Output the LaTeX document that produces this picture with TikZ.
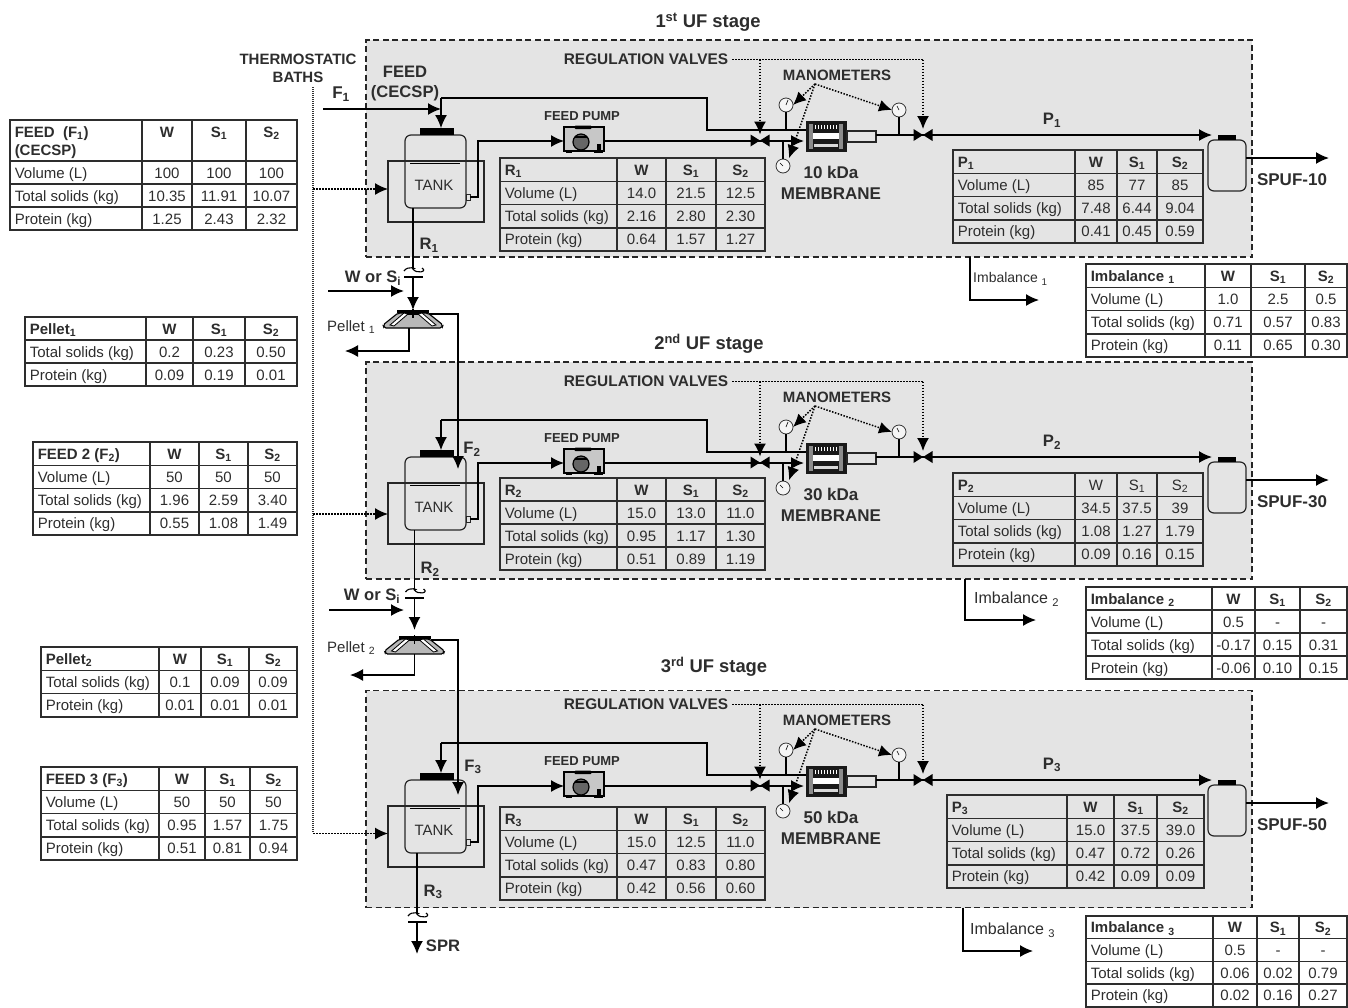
\documentclass[tikz,border=0pt]{standalone}
\usepackage{fontspec}
\usepackage{array}
\setmainfont{Liberation Sans}
\usetikzlibrary{arrows.meta}
\definecolor{stagegray}{RGB}{228,228,228}
\definecolor{inkgray}{RGB}{45,45,45}
\newcolumntype{L}[1]{>{\raggedright\arraybackslash\leftskip=4pt\relax}p{#1}}
\newcolumntype{C}[1]{>{\centering\arraybackslash}p{#1}}
\setlength{\tabcolsep}{0pt}
\setlength{\arrayrulewidth}{1.5pt}
\setlength{\extrarowheight}{4pt}
\newcommand{\lo}[1]{\textsubscript{#1}}
\newcommand{\tabhead}[1]{\textbf{#1}&\textbf{W}&\textbf{S\lo{1}}&\textbf{S\lo{2}}\\\hline}
\newcommand{\trow}[4]{#1&#2&#3&#4\\\hline}
% name, corner, four column widths, row height, rows
\newcommand{\flowtable}[8]{\node[tablebox] (#1) at ([shift={(-0.75,-0.75)}]#2) {\fontsize{15}{#7}\selectfont
  \begin{tabular}{|L{#3pt}|C{#4pt}|C{#5pt}|C{#6pt}|}\hline #8\end{tabular}};}
\newcommand{\valve}[2]{\node[valvenode] (#1) at (#2) {};
  \fill[black] (#1.center) -- (#1.north west) -- (#1.south west) -- cycle;
  \fill[black] (#1.center) -- (#1.north east) -- (#1.south east) -- cycle;}
\newcommand{\cutmark}[2]{\node[cutbar] (#1) at (#2) {};
  \draw[pipe] ([shift={(-9,-6)}]#1.center) .. controls +(4,-6) and +(5,0) .. ([shift={(0,-8)}]#1.center) .. controls +(3,5) and +(6,4) .. ([shift={(9,-9)}]#1.center);}
\newcommand{\centrifuge}[2]{\node[spinnode] (#1) at (#2) {};
  \begin{scope}[shift={(#1.center)}]
  \draw[pipe,fill=black!28,rounded corners=2pt] (-15,-6) -- (-30,6) -- (-29,9) -- (29,9) -- (30,6) -- (15,-6) -- cycle;
  \draw[line width=.8pt,fill=white] (-9,-6) -- (-23,6) -- (-19,7) -- (-5,-5) -- cycle;
  \draw[line width=.8pt,fill=white] (9,-6) -- (23,6) -- (19,7) -- (5,-5) -- cycle;
  \fill[black] (-16,-9) rectangle (16,-6);
  \draw[line width=1.6pt] (0,-10) -- (0,-1);
  \draw[line width=1.2pt] (-6,-5) -- (6,-5);
  \end{scope}}
\tikzset{
  >={Latex[length=13pt,width=12pt]},
  pipe/.style={line width=1.1pt,draw=black},
  bigpipe/.style={line width=1.8pt,draw=black},
  dots/.style={line width=1.5pt,dash pattern=on 1.5pt off 1.5pt,draw=black},
  thindots/.style={line width=1.2pt,dash pattern=on 1pt off 1pt,draw=black!80},
  stagebox/.style={draw=black!85,fill=stagegray,line width=1.5pt,dash pattern=on 6pt off 3.5pt,minimum width=886pt,minimum height=217pt,inner sep=0pt,outer sep=0pt},
  tablebox/.style={anchor=north west,inner sep=0pt,outer sep=0pt,text=inkgray},
  tankbody/.style={draw=black!85,line width=1.2pt,rounded corners=6pt,inner sep=0pt,outer sep=0pt},
  lidbar/.style={fill=black,inner sep=0pt,outer sep=0pt},
  bathbox/.style={draw=black!85,line width=1.1pt,minimum width=96pt,minimum height=61pt,inner sep=0pt,outer sep=0pt},
  valvenode/.style={inner sep=0pt,outer sep=0pt,minimum width=19pt,minimum height=12pt},
  cutbar/.style={fill=black,inner sep=0pt,outer sep=0pt,minimum width=19pt,minimum height=1.6pt},
  spinnode/.style={inner sep=0pt,outer sep=0pt,minimum width=60pt,minimum height=18pt},
  gauge/.style={circle,draw=black!80,fill=black!4,line width=.8pt,minimum size=14pt,inner sep=0pt,outer sep=0pt},
  lbl/.style={font=\bfseries\fontsize{16.6}{20}\selectfont,text=inkgray,inner sep=0pt,align=center},
  smlbl/.style={font=\bfseries\fontsize{15}{18}\selectfont,text=inkgray,inner sep=0pt,align=center},
  titlelbl/.style={font=\bfseries\fontsize{18.4}{20}\selectfont,text=inkgray,inner sep=0pt},
  txt/.style={font=\fontsize{15}{18}\selectfont,text=inkgray,inner sep=0pt},
}
\begin{document}
\begin{tikzpicture}[x=1pt,y=-1pt]
\useasboundingbox (0,0) rectangle (1348,1007);
\node[stagebox] (box1) at (809,148.5) {};
\node[stagebox] (box2) at (809,470.5) {};
\node[stagebox] (box3) at (809,799) {};
\node[titlelbl] (title1) at (708,22) {1\textsuperscript{st} UF stage};
\node[titlelbl] (title2) at (709,344) {2\textsuperscript{nd} UF stage};
\node[titlelbl] (title3) at (714,667) {3\textsuperscript{rd} UF stage};
% the three UF stages are alike
\foreach \i/\dy/\kda in {1/0/10,2/322/30,3/645/50}{
\begin{scope}[yshift=-\dy pt,name prefix=s\i-]
\node[tankbody,minimum width=61pt,minimum height=73pt] (tank) at (435.5,171.5) {};
\node[lidbar,minimum width=34pt,minimum height=7pt] (lid) at (437,131.5) {};
\node[bathbox] (bath) at (436,191.5) {};
\draw[line width=1.2pt] (410,163.6) -- (460,163.6);
\node[txt] (tanktxt) at (434,185) {TANK};
\node[draw=black!85,line width=.8pt,inner sep=0pt,outer sep=0pt,minimum width=4pt,minimum height=6pt] (outlet) at (468,197) {};
\node[draw=black,fill=black!22,line width=1.2pt,inner sep=0pt,outer sep=0pt,minimum width=40pt,minimum height=24pt] (pump) at (584,139) {};
\fill[black,rounded corners=1.5pt] (574,125.5) rectangle (592,129);
\draw[line width=1.2pt,fill=black!60] (581,142) circle (8pt);
\draw[line width=1.2pt] (575,137) -- (587,137);
\fill[black] (597,144) rectangle (601,151);
\fill[black] (566,150) rectangle (572,153);
\fill[black] (594,150) rectangle (603,153);
\node[smlbl,font=\bfseries\fontsize{13}{16}\selectfont] (pumptxt) at (582,116) {FEED PUMP};
\coordinate (riser) at (478,141);
\draw[pipe,line width=1.5pt,->] (outlet.east) -| (riser) -- (pump.west |- riser);
% membrane block
\node[fill=black!90,inner sep=0pt,outer sep=0pt,minimum width=41pt,minimum height=31pt] (memb) at (826.5,136.5) {};
\fill[white] (813,133) rectangle (839,139);
\fill[black!45] (809,124) rectangle (813,149);
\fill[black!45] (839,124) rectangle (843,149);
\foreach \hx in {815,818,...,837}{\draw[white,line width=.6pt] (\hx,125) -- (\hx,129);}
\fill[black!15] (814,144) rectangle (838,147);
\node[draw=black!85,line width=1.1pt,inner sep=0pt,outer sep=0pt,minimum width=29pt,minimum height=11pt] (tube) at (861.5,136.5) {};
% return line to the tank
\coordinate (ret) at (441,98);
\coordinate (bend) at (707,130);
\draw[pipe,->] (ret) -- (ret |- lid.north);
\draw[pipe] (ret) -| (bend) -- (memb.west |- bend);
\valve{valveA}{760,140.5}
\draw[bigpipe,->,shorten >=2pt] (pump.east |- riser) -- (memb.west |- riser);
\coordinate (outl) at (876,135);
\coordinate (jarin) at (1212,135);
\draw[bigpipe,->] (outl) -- (jarin);
\valve{valveB}{923,135}
\node[tankbody,minimum width=38pt,minimum height=51pt] (jar) at (1227,165.5) {};
\node[lidbar,minimum width=18pt,minimum height=5pt] (jarlid) at (1227,137.5) {};
\coordinate (spufend) at (1329,158);
\draw[bigpipe,->] (spufend -| jar.east) -- (spufend);
\node[lbl,font=\bfseries\fontsize{17}{20}\selectfont] (spuf) at (1292,180) {SPUF-\kda};
\node[lbl,font=\bfseries\fontsize{17}{21}\selectfont] (membtxt) at (831,183) {\kda\ kDa\\MEMBRANE};
\node[lbl] (ptxt) at (1052,120) {P\lo{\i}};
% gauges and the dotted call-outs
\node[gauge] (gaugeA) at (786,105) {};
\node[gauge] (gaugeB) at (783,166) {};
\node[gauge] (gaugeC) at (899,110) {};
\draw[line width=.6pt] (gaugeA.center) -- ++(2,-5);
\draw[line width=.6pt] (gaugeB.center) -- ++(-3,-3);
\draw[line width=.6pt] (gaugeC.center) -- ++(-2,-4);
\draw[pipe] (gaugeA.south) -- (gaugeA.south |- bend);
\draw[pipe] (gaugeB.north) -- (gaugeB.north |- riser);
\draw[pipe] (gaugeC.south) -- (gaugeC.south |- outl);
\node[smlbl,font=\bfseries\fontsize{15.4}{18}\selectfont,inner xsep=4pt] (regtxt) at (646,59.5) {REGULATION VALVES};
\coordinate (regbend) at (valveB.north |- regtxt.east);
\draw[dots] (regtxt.east) -- (regbend);
\draw[dots,->] (regbend) -- (valveB.north);
\draw[dots,->] (regtxt.east -| valveA.north) -- (valveA.north);
\node[smlbl] (mantxt) at (837,75) {MANOMETERS};
\coordinate (manfork) at (815,84);
\draw[dots,->] (manfork) -- (gaugeA.east);
\draw[dots,->] (manfork) -- (gaugeC.west);
\draw[dots,->,shorten >=3pt] (manfork) -- (gaugeB.north east);
\end{scope}
}
% feed and thermostatic baths
\node[lbl,font=\bfseries\fontsize{15}{18}\selectfont] (thermtxt) at (298,68) {THERMOSTATIC\\BATHS};
\node[lbl] (feedtxt) at (405,83.5) {FEED\\(CECSP)};
\node[lbl,font=\bfseries\fontsize{17}{20}\selectfont] (f1txt) at (341,94) {F\lo{1}};
\coordinate (feedA) at (323,109);
\draw[bigpipe,->] (feedA) -- (s1-ret |- feedA);
\coordinate (thermtop) at (313,87);
\coordinate (thermbot) at (313,833);
\draw[thindots] (thermtop) -- (thermbot);
\foreach \k/\off in {1/2.5,2/-0.5,3/3}{
  \coordinate (bathin\k) at ([yshift=\off pt]s\k-bath.west);
  \draw[dots,->] (thermtop |- bathin\k) -- (bathin\k);
}
% between the stages
\node[lbl] (r1txt) at (429,245) {R\lo{1}};
\node[lbl] (r2txt) at (430,569) {R\lo{2}};
\node[lbl] (r3txt) at (433,892) {R\lo{3}};
\cutmark{cut1}{413,277}
\cutmark{cut2}{414.5,598}
\cutmark{cut3}{417,922}
\draw[pipe] (s1-tank.south -| cut1) -- ([yshift=8pt]cut1.center);
\draw[pipe] (s2-tank.south -| cut2) -- ([yshift=8pt]cut2.center);
\draw[pipe] (s3-tank.south -| cut3) -- ([yshift=8pt]cut3.center);
\centrifuge{spin1}{413,319}
\centrifuge{spin2}{414.5,645}
\draw[bigpipe,->] (cut1) -- (spin1.north);
\draw[bigpipe,->] (cut2) -- ([yshift=6pt]spin2.north);
\coordinate (sprend) at (417,954);
\draw[bigpipe,->] (cut3) -- (sprend);
\node[lbl] (sprtxt) at (443,946) {SPR};
\node[lbl] (w1txt) at (373,278) {W or S\lo{i}};
\node[lbl] (w2txt) at (372,596) {W or S\lo{i}};
\coordinate (w1a) at (328,291);
\coordinate (w1b) at (404,291);
\coordinate (w2a) at (329,610);
\coordinate (w2b) at (404,610);
\draw[bigpipe,->] (w1a) -- (w1b);
\draw[bigpipe,->] (w2a) -- (w2b);
\node[txt,anchor=west] (pel1txt) at (327,327) {Pellet \lo{1}};
\node[txt,anchor=west] (pel2txt) at (327,648) {Pellet \lo{2}};
\coordinate (pel1) at (345,351);
\coordinate (pel2) at (350,675);
\draw[pipe,line width=1.5pt,->] ([xshift=-4pt]spin1.south) |- (pel1);
\draw[pipe,line width=1.5pt,->] (spin2.south) |- (pel2);
\coordinate (f2in) at (458,469);
\coordinate (f3in) at (458,795);
\draw[pipe,line width=1.5pt,->] ([shift={(16,-5)}]spin1.center) -| (f2in);
\draw[pipe,line width=1.5pt,->] ([shift={(16,-5)}]spin2.center) -| (f3in);
\node[lbl] (f2txt) at (472,449) {F\lo{2}};
\node[lbl] (f3txt) at (473,767) {F\lo{3}};
% imbalance outlets
\foreach \k/\ix/\iy/\ie in {1/970/300/1039,2/965/620/1036,3/963/951/1033}{
  \coordinate (imb\k) at (\ix,\iy);
  \coordinate (imbend\k) at (\ie,\iy);
  \draw[pipe,line width=1.5pt,->] (box\k.south -| imb\k) |- (imbend\k);
}
\node[txt,anchor=west,font=\fontsize{14}{18}\selectfont] (imb1txt) at (973,279) {Imbalance \lo{1}};
\node[txt,anchor=west,font=\fontsize{16}{18}\selectfont] (imb2txt) at (974,599) {Imbalance \lo{2}};
\node[txt,anchor=west,font=\fontsize{16}{18}\selectfont] (imb3txt) at (970,930) {Imbalance \lo{3}};
% tables
\flowtable{feedtab1}{10,120}{130.5}{48.5}{52.5}{49.5}{17.5}{%
  \fontsize{15}{18}\selectfont\textbf{FEED\ \ (F\lo{1})}\newline\textbf{(CECSP)}&\textbf{W}\rule[-23.25pt]{0pt}{1pt}&\textbf{S\lo{1}}&\textbf{S\lo{2}}\\\hline
  \trow{Volume (L)}{100}{100}{100}\trow{Total solids (kg)}{10.35}{11.91}{10.07}\trow{Protein (kg)}{1.25}{2.43}{2.32}}
\flowtable{pelltab1}{25,317}{119.5}{45.5}{50.5}{50.5}{17.5}{%
  \tabhead{Pellet\lo{1}}\trow{Total solids (kg)}{0.2}{0.23}{0.50}\trow{Protein (kg)}{0.09}{0.19}{0.01}}
\flowtable{feedtab2}{33,442}{115.5}{47.5}{47.5}{47.5}{17.75}{%
  \tabhead{FEED 2 (F\lo{2})}\trow{Volume (L)}{50}{50}{50}\trow{Total solids (kg)}{1.96}{2.59}{3.40}\trow{Protein (kg)}{0.55}{1.08}{1.49}}
\flowtable{pelltab2}{41,647}{116.5}{40.5}{46.5}{46.5}{17.8}{%
  \tabhead{Pellet\lo{2}}\trow{Total solids (kg)}{0.1}{0.09}{0.09}\trow{Protein (kg)}{0.01}{0.01}{0.01}}
\flowtable{feedtab3}{41,767}{116.5}{44.5}{43.5}{45.5}{17.75}{%
  \tabhead{FEED 3 (F\lo{3})}\trow{Volume (L)}{50}{50}{50}\trow{Total solids (kg)}{0.95}{1.57}{1.75}\trow{Protein (kg)}{0.51}{0.81}{0.94}}
\flowtable{rtab1}{500,158}{115.5}{47.5}{48.5}{47.5}{17.75}{%
  \tabhead{R\lo{1}}\trow{Volume (L)}{14.0}{21.5}{12.5}\trow{Total solids (kg)}{2.16}{2.80}{2.30}\trow{Protein (kg)}{0.64}{1.57}{1.27}}
\flowtable{rtab2}{500,478}{115.5}{47.5}{48.5}{47.5}{17.5}{%
  \tabhead{R\lo{2}}\trow{Volume (L)}{15.0}{13.0}{11.0}\trow{Total solids (kg)}{0.95}{1.17}{1.30}\trow{Protein (kg)}{0.51}{0.89}{1.19}}
\flowtable{rtab3}{500,807}{115.5}{47.5}{48.5}{47.5}{17.75}{%
  \tabhead{R\lo{3}}\trow{Volume (L)}{15.0}{12.5}{11.0}\trow{Total solids (kg)}{0.47}{0.83}{0.80}\trow{Protein (kg)}{0.42}{0.56}{0.60}}
\flowtable{ptab1}{953,150}{120.5}{40.5}{38.5}{44.5}{17.75}{%
  \tabhead{P\lo{1}}\trow{Volume (L)}{85}{77}{85}\trow{Total solids (kg)}{7.48}{6.44}{9.04}\trow{Protein (kg)}{0.41}{0.45}{0.59}}
\flowtable{ptab2}{953,473}{120.5}{40.5}{38.5}{44.5}{17.75}{%
  \textbf{P\lo{2}}&W&S\lo{1}&S\lo{2}\\\hline
  \trow{Volume (L)}{34.5}{37.5}{39}\trow{Total solids (kg)}{1.08}{1.27}{1.79}\trow{Protein (kg)}{0.09}{0.16}{0.15}}
\flowtable{ptab3}{947,795}{118.5}{45.5}{41.5}{45.5}{17.75}{%
  \tabhead{P\lo{3}}\trow{Volume (L)}{15.0}{37.5}{39.0}\trow{Total solids (kg)}{0.47}{0.72}{0.26}\trow{Protein (kg)}{0.42}{0.09}{0.09}}
\flowtable{imbtab1}{1086,264}{117.5}{44.5}{52.5}{40.5}{17.75}{%
  \tabhead{Imbalance \lo{1}}\trow{Volume (L)}{1.0}{2.5}{0.5}\trow{Total solids (kg)}{0.71}{0.57}{0.83}\trow{Protein (kg)}{0.11}{0.65}{0.30}}
\flowtable{imbtab2}{1086,587}{124.5}{41.5}{43.5}{45.5}{17.5}{%
  \tabhead{Imbalance \lo{2}}\trow{Volume (L)}{0.5}{-}{-}\trow{Total solids (kg)}{-0.17}{0.15}{0.31}\trow{Protein (kg)}{-0.06}{0.10}{0.15}}
\flowtable{imbtab3}{1086,916}{125.5}{42.5}{40.5}{46.5}{17.2}{%
  \tabhead{Imbalance \lo{3}}\trow{Volume (L)}{0.5}{-}{-}\trow{Total solids (kg)}{0.06}{0.02}{0.79}\trow{Protein (kg)}{0.02}{0.16}{0.27}}
\end{tikzpicture}
\end{document}
